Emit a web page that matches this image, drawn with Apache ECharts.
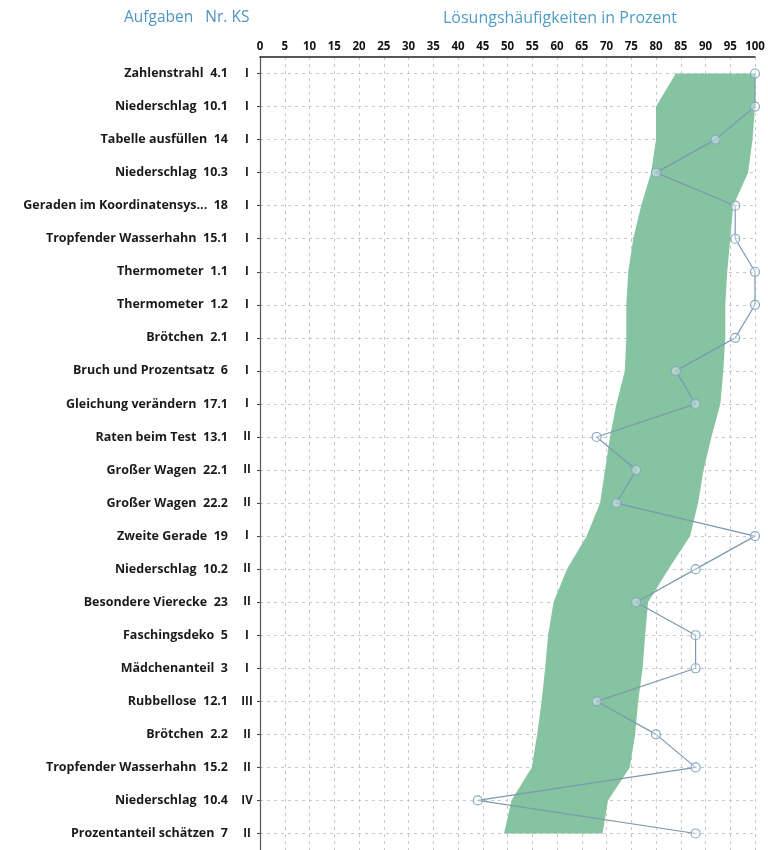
<!DOCTYPE html>
<html>
<head>
<meta charset="utf-8">
<script src="https://cdn.jsdelivr.net/npm/echarts@6/dist/echarts.min.js"></script>
<style>
  html, body { margin: 0; padding: 0; background: #fff; }
  #chart { width: 768px; height: 850px; }
</style>
</head>
<body>
<div id="chart"></div>
<script>
// Aufgaben, Nummer, Kompetenzstufe
var tasks = ['Zahlenstrahl', 'Niederschlag', 'Tabelle ausfüllen', 'Niederschlag', 'Geraden im Koordinatensys...',
  'Tropfender Wasserhahn', 'Thermometer', 'Thermometer', 'Brötchen', 'Bruch und Prozentsatz',
  'Gleichung verändern', 'Raten beim Test', 'Großer Wagen', 'Großer Wagen', 'Zweite Gerade',
  'Niederschlag', 'Besondere Vierecke', 'Faschingsdeko', 'Mädchenanteil', 'Rubbellose',
  'Brötchen', 'Tropfender Wasserhahn', 'Niederschlag', 'Prozentanteil schätzen'];
var nums = ['4.1', '10.1', '14', '10.3', '18', '15.1', '1.1', '1.2', '2.1', '6',
  '17.1', '13.1', '22.1', '22.2', '19', '10.2', '23', '5', '3', '12.1',
  '2.2', '15.2', '10.4', '7'];
var ks = ['I', 'I', 'I', 'I', 'I', 'I', 'I', 'I', 'I', 'I',
  'I', 'II', 'II', 'II', 'I', 'II', 'II', 'I', 'I', 'III',
  'II', 'II', 'IV', 'II'];

// Lösungshäufigkeiten (Klasse) in Prozent
var values = [100, 100, 92, 80, 96, 96, 100, 100, 96, 84,
  88, 68, 76, 72, 100, 88, 76, 88, 88, 68,
  80, 88, 44, 88];

// Band (Vergleichsbereich) untere / obere Grenze
var bandLow = [84, 80, 80, 79, 77, 75.4, 74.4, 74, 74, 73.7,
  72, 70.7, 69.7, 68.7, 66, 62, 59.3, 58.2, 57.6, 56.9,
  56, 54.9, 50.8, 49.3];
var bandHigh = [100, 100, 99.5, 98.6, 95.6, 95, 94.4, 94, 94, 93.6,
  93, 91.2, 89.6, 88.5, 86.9, 82.5, 78.4, 77.8, 77.3, 76.4,
  75.8, 74.7, 70.3, 69.2];

var cats = tasks.map(function (t, i) { return i; });

var chart = echarts.init(document.getElementById('chart'));

var labelFont = '"Open Sans"';

chart.setOption({
  animation: false,
  backgroundColor: '#fff',
  graphic: [
    { type: 'text', left: 124, top: 10, style: { text: 'Aufgaben   Nr. KS', fill: '#4f94c2', font: '15.5px "Open Sans"' } },
    { type: 'text', left: 443, top: 10, style: { text: 'Lösungshäufigkeiten in Prozent', fill: '#4f9cc6', font: '16px "Open Sans"' } }
  ],
  grid: { left: 260, top: 57, width: 495, height: 794.4 },
  xAxis: {
    type: 'value',
    position: 'top',
    min: 0,
    max: 100,
    interval: 5,
    axisLine: { show: true, lineStyle: { color: '#222', width: 1.5 } },
    axisTick: { show: false },
    axisLabel: { color: '#111', fontFamily: labelFont, fontWeight: 'bold', fontSize: 11.5, margin: 4 },
    splitLine: { show: true, lineStyle: { color: '#c8c8c8', type: [3, 4], width: 1 } }
  },
  yAxis: {
    type: 'category',
    inverse: true,
    data: cats,
    boundaryGap: true,
    axisLine: { show: true, lineStyle: { color: '#555', width: 1.2 } },
    axisTick: { show: true, alignWithLabel: true, length: 3, lineStyle: { color: '#444' } },
    splitLine: { show: true, alignWithLabel: true, lineStyle: { color: '#c8c8c8', type: [3, 4], width: 1 } },
    axisLabel: {
      margin: 4,
      formatter: function (v) {
        var i = +v;
        return '{a|' + tasks[i] + '  ' + nums[i] + '}{b|' + ks[i] + '}';
      },
      rich: {
        a: { color: '#1a1a1a', fontFamily: labelFont, fontWeight: 'bold', fontSize: 12.5, padding: [0, 10, 0, 0] },
        b: { color: '#1a1a1a', fontFamily: labelFont, fontWeight: 'bold', fontSize: 11.5, width: 18, align: 'center' }
      }
    }
  },
  series: [
    {
      type: 'custom',
      silent: true,
      z: 1,
      data: cats,
      renderItem: function (params, api) {
        if (params.dataIndex !== 0) return;
        var pts = [];
        for (var i = 0; i < bandLow.length; i++) pts.push(api.coord([bandLow[i], i]));
        for (var j = bandHigh.length - 1; j >= 0; j--) pts.push(api.coord([bandHigh[j], j]));
        return { type: 'polygon', shape: { points: pts }, style: { fill: '#80c09c', opacity: 0.95 } };
      }
    },
    {
      type: 'line',
      z: 3,
      data: values.map(function (v, i) { return [v, i]; }),
      symbol: 'circle',
      symbolSize: 9,
      lineStyle: { color: '#7c98b0', width: 1.2 },
      itemStyle: { color: 'rgba(255,255,255,0.35)', borderColor: '#86a8c6', borderWidth: 1.2 }
    }
  ]
});
</script>
</body>
</html>
